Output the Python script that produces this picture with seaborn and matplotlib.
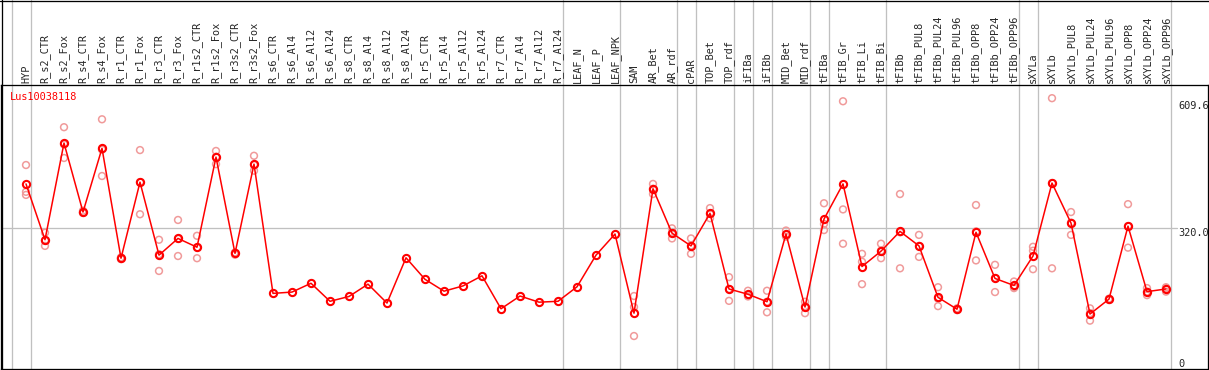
import numpy as np
import pandas as pd
import seaborn as sns
import matplotlib.pyplot as plt
from matplotlib.lines import Line2D
from matplotlib.transforms import blended_transform_factory

# sample names (x axis, printed vertically on top)
samples = [
    "HYP", "R_s2_CTR", "R_s2_Fox", "R_s4_CTR", "R_s4_Fox", "R_r1_CTR", "R_r1_Fox",
    "R_r3_CTR", "R_r3_Fox", "R_r1s2_CTR", "R_r1s2_Fox", "R_r3s2_CTR", "R_r3s2_Fox",
    "R_s6_CTR", "R_s6_Al4", "R_s6_Al12", "R_s6_Al24", "R_s8_CTR", "R_s8_Al4",
    "R_s8_Al12", "R_s8_Al24", "R_r5_CTR", "R_r5_Al4", "R_r5_Al12", "R_r5_Al24",
    "R_r7_CTR", "R_r7_Al4", "R_r7_Al12", "R_r7_Al24", "LEAF_N", "LEAF_P", "LEAF_NPK",
    "SAM", "AR_Bet", "AR_rdf", "cPAR", "TOP_Bet", "TOP_rdf", "iFIBa", "iFIBb",
    "MID_Bet", "MID_rdf", "tFIBa", "tFIB_Gr", "tFIB_Li", "tFIB_Bi", "tFIBb",
    "tFIBb_PUL8", "tFIBb_PUL24", "tFIBb_PUL96", "tFIBb_OPP8", "tFIBb_OPP24",
    "tFIBb_OPP96", "sXYLa", "sXYLb", "sXYLb_PUL8", "sXYLb_PUL24", "sXYLb_PUL96",
    "sXYLb_OPP8", "sXYLb_OPP24", "sXYLb_OPP96",
]

# mean expression per sample
means = [
    421, 294, 514, 357, 502, 252, 425, 259, 297, 277, 482, 263, 466,
    172, 175, 195, 154, 165, 193, 150, 253, 204, 177, 189, 212, 137, 166, 152, 154,
    187, 259, 307, 127, 410, 309, 280, 354, 182, 170, 153, 307, 141, 341, 421, 233,
    268, 313, 280, 163, 136, 311, 206, 190, 257, 423, 332, 125, 159, 325, 176, 182,
]

nan = np.nan
# individual replicates (nan = not shown)
rep_a = [
    464, 310, 550, 360, 568, 254, 498, 294, 339, 303, 496, 265, 485,
    nan, nan, nan, nan, nan, nan, nan, nan, nan, nan, nan, nan, nan, nan, nan, nan,
    nan, nan, nan, 166, 421, 320, 297, 366, 209, 178, 178, 315, 153, 377, 609, 262,
    285, 398, 305, 186, 138, 373, 237, 199, 278, 616, 357, 138, 160, 375, 184, 186,
]
rep_b = [
    403, 280, 480, 355, 439, 250, 352, 223, 257, 252, 466, 260, 451,
    nan, nan, nan, nan, nan, nan, nan, nan, nan, nan, nan, nan, nan, nan, nan, nan,
    nan, nan, nan, 75, 398, 297, 262, 343, 155, 165, 129, 301, 127, 316, 363, 193,
    252, 229, 255, 143, 134, 247, 175, 184, 269, 229, 305, 110, 157, 276, 168, 176,
]
rep_c = [
    396, 292, 511, 356, 499, 252, 425, 261, 296, 276, 483, 264, 464,
    nan, nan, nan, nan, nan, nan, nan, nan, nan, nan, nan, nan, nan, nan, nan, nan,
    nan, nan, nan, 141, 410, 309, 281, 353, 182, 168, 153, 306, 143, 330, 285, 244,
    269, 311, 280, 160, 136, 313, 207, 186, 227, 423, 333, 127, 159, 325, 176, 184,
]

# group separators are drawn just after these samples
separators_after = [-1, 0, 28, 31, 34, 35, 37, 38, 39, 41, 42, 45, 52, 53, 60]

gene = "Lus10038118"
y_max = 609.6
y_mid = 320.0

W, H = 1209, 370
PX = 0.72  # one pixel in points at dpi 100
sns.set_style("white")
plt.rcParams["font.family"] = ["DejaVu Sans Mono"]
plt.rcParams["font.size"] = 7.2

fig = plt.figure(figsize=(W / 100, H / 100), dpi=100)
ax = fig.add_axes([1 / W, 1 / H, 1207 / W, 284 / H])

pos = np.arange(len(samples))
df_mean = pd.DataFrame({"pos": pos, "value": means})
df_rep = pd.DataFrame({"pos": pos, "a": rep_a, "b": rep_b, "c": rep_c})
df_rep = df_rep.melt(id_vars="pos", value_name="value").dropna()

grey = "#c0c0c0"
for s in separators_after:
    ax.axvline(s + 0.24, ymin=0, ymax=369 / 284, color=grey, lw=1.3 * PX,
               clip_on=False, zorder=0)
ax.axhline(y_mid, xmin=0, xmax=1176 / 1207, color=grey, lw=1.3 * PX, zorder=0)

sns.scatterplot(data=df_rep, x="pos", y="value", ax=ax, marker="o", s=24,
                facecolor="none", edgecolor="#f09a9a", linewidth=1.1, zorder=2)
sns.lineplot(data=df_mean, x="pos", y="value", ax=ax, color="red", lw=1.1,
             marker="o", markersize=5.2, markerfacecolor="none",
             markeredgecolor="red", markeredgewidth=1.5, zorder=3)

ax.set_xlim((1 - 26) / 19, (1208 - 26) / 19)
ax.set_ylim(0, 646)
ax.set_xlabel("")
ax.set_ylabel("")
ax.set_yticks([])
ax.xaxis.tick_top()
ax.set_xticks(pos)
ax.set_xticklabels(samples, rotation=90)
ax.tick_params(axis="x", length=0, pad=1.5, labelsize=7.4)
for sp in ax.spines.values():
    sp.set_color("black")
    sp.set_linewidth(1.3 * PX)

ax.text(9 / 1207, 0.958, gene, transform=ax.transAxes, color="red",
        ha="left", va="center", fontsize=7.4)

tr = blended_transform_factory(ax.transAxes, ax.transData)
xl = 1177 / 1207
ax.text(xl, y_max, f"{y_max:.1f}", transform=tr, ha="left", va="top", fontsize=7.4)
ax.text(xl, y_mid, f"{y_mid:.1f}", transform=tr, ha="left", va="top", fontsize=7.4)
ax.text(xl, 0, "0", transform=tr, ha="left", va="bottom", fontsize=7.4)

# outer frame of the label area
fig.add_artist(Line2D([0, 1], [1 - 0.5 / H] * 2, transform=fig.transFigure,
                      color="black", lw=1.3 * PX))
fig.add_artist(Line2D([1.5 / W] * 2, [0, 1], transform=fig.transFigure,
                      color="black", lw=1.3 * PX))

fig.savefig("out.png", dpi=100)
